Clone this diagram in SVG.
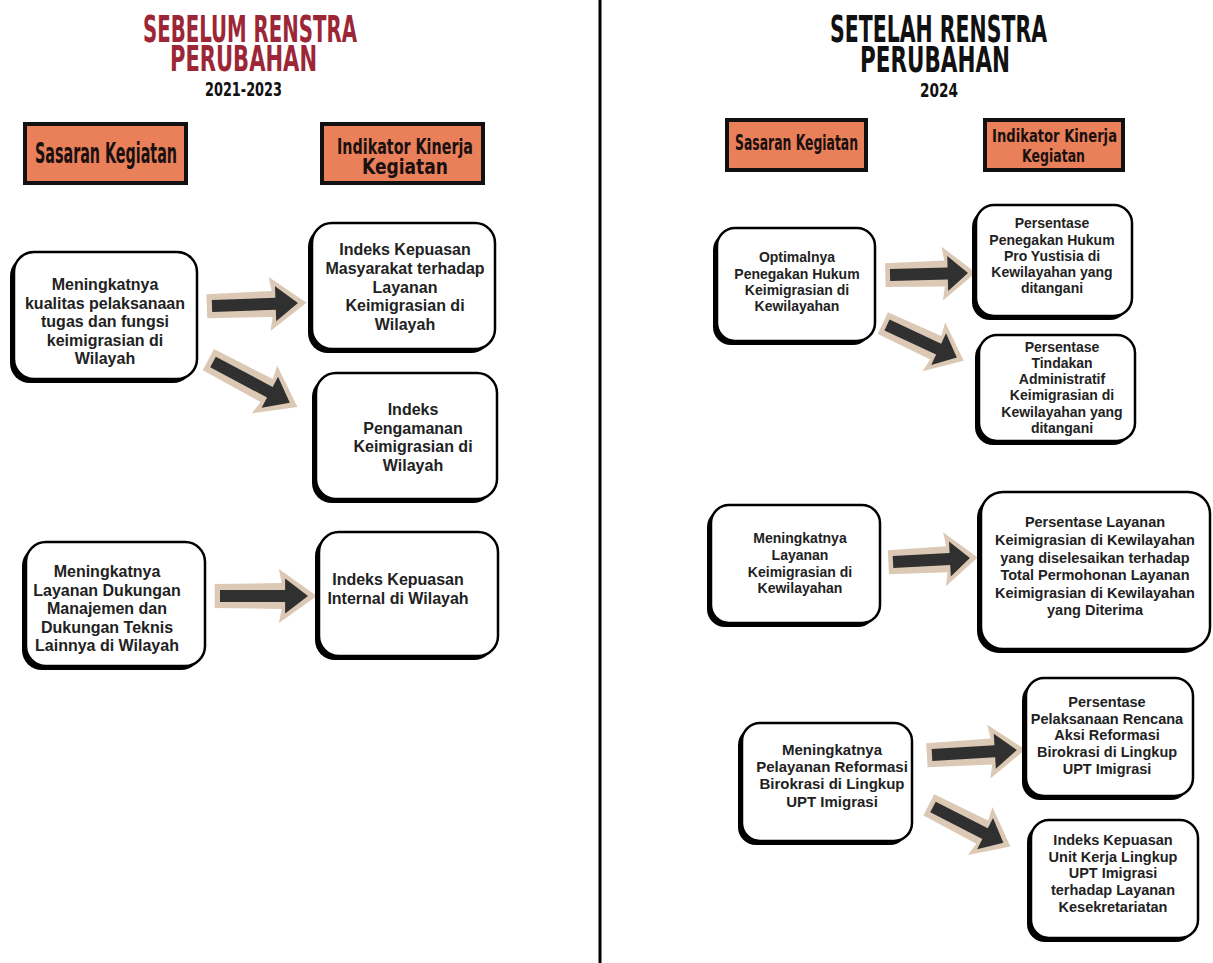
<svg xmlns="http://www.w3.org/2000/svg" xmlns:xlink="http://www.w3.org/1999/xlink" width="1213" height="963" viewBox="0 0 1213 963">
<style>
.title{font-family:"DejaVu Sans Condensed","Liberation Sans Narrow","Liberation Sans",sans-serif;font-weight:bold;text-anchor:start}
.red{fill:#9c2636}
.blk{fill:#111}
.hdr{fill:#e9805a;stroke:#111;stroke-width:4}
.htx{font-family:"DejaVu Sans Condensed","Liberation Sans Narrow","Liberation Sans",sans-serif;font-weight:bold;fill:#1a1010}
.shadow{fill:#000}
.box{fill:#fff;stroke:#000;stroke-width:2.5}
.nt{font-family:"Liberation Sans",Arial,sans-serif;font-weight:bold;fill:#222;text-anchor:middle}
.s16{font-size:16px}
.s14{font-size:14px}
.s145{font-size:14.5px}
.s15{font-size:15px}
.abg{fill:#dcc9b5}
.afg{fill:#303030}
</style>
<defs>
<g id="arrow">
<path class="abg" d="M-6,-12 L70,-13 L67,-27 L110,0 L67,27 L70,13 L-6,12 Z"/>
<path class="afg" d="M0,-6 L74,-6 L74,-17.5 L100,0 L74,17.5 L74,6 L0,6 Z"/>
</g>
</defs>
<rect x="0" y="0" width="1213" height="963" fill="#fff"/>
<line x1="600" y1="0" x2="600" y2="963" stroke="#000" stroke-width="3"/>

<g id="title-left">
<text class="title red" x="143" y="42" font-size="38" textLength="214" lengthAdjust="spacingAndGlyphs">SEBELUM RENSTRA</text>
<text class="title red" x="170" y="71" font-size="36" textLength="147" lengthAdjust="spacingAndGlyphs">PERUBAHAN</text>
<text class="title blk" x="205" y="96" font-size="20" textLength="77" lengthAdjust="spacingAndGlyphs">2021-2023</text>
</g>
<g id="title-right">
<text class="title blk" x="830" y="42" font-size="38" textLength="217" lengthAdjust="spacingAndGlyphs">SETELAH RENSTRA</text>
<text class="title blk" x="860" y="72" font-size="36" textLength="150" lengthAdjust="spacingAndGlyphs">PERUBAHAN</text>
<text class="title blk" x="920" y="97" font-size="20" textLength="38" lengthAdjust="spacingAndGlyphs">2024</text>
</g>

<g id="hdr-sasaran-left">
<rect class="hdr" x="25" y="124" width="161" height="59"/>
<text class="htx" x="35" y="163" font-size="28" textLength="142" lengthAdjust="spacingAndGlyphs">Sasaran Kegiatan</text>
</g>
<g id="hdr-indikator-left">
<rect class="hdr" x="322" y="124" width="161" height="59"/>
<text class="htx" x="337" y="154" font-size="21" textLength="136" lengthAdjust="spacingAndGlyphs">Indikator Kinerja</text>
<text class="htx" x="362" y="174" font-size="21" textLength="86" lengthAdjust="spacingAndGlyphs">Kegiatan</text>
</g>
<g id="hdr-sasaran-right">
<rect class="hdr" x="727" y="120" width="139" height="50" stroke-width="3.5"/>
<text class="htx" x="735" y="150" font-size="21" textLength="123" lengthAdjust="spacingAndGlyphs">Sasaran Kegiatan</text>
</g>
<g id="hdr-indikator-right">
<rect class="hdr" x="985" y="120" width="138" height="50" stroke-width="3.5"/>
<text class="htx" x="992" y="142" font-size="18" textLength="125" lengthAdjust="spacingAndGlyphs">Indikator Kinerja</text>
<text class="htx" x="1022" y="162" font-size="18" textLength="63" lengthAdjust="spacingAndGlyphs">Kegiatan</text>
</g>

<g id="connectors">
<use xlink:href="#arrow" href="#arrow" transform="translate(212,306) rotate(-2) scale(0.86,1)"/>
<use xlink:href="#arrow" href="#arrow" transform="translate(213,362) rotate(28) scale(0.87,1)"/>
<use xlink:href="#arrow" href="#arrow" transform="translate(220,596) scale(0.88,1)"/>
<use xlink:href="#arrow" href="#arrow" transform="translate(890,275) rotate(-1.5) scale(0.78,1)"/>
<use xlink:href="#arrow" href="#arrow" transform="translate(887,325) rotate(25) scale(0.77,1)"/>
<use xlink:href="#arrow" href="#arrow" transform="translate(893,562) rotate(-3) scale(0.77,1)"/>
<use xlink:href="#arrow" href="#arrow" transform="translate(932,755) rotate(-3.4) scale(0.85,1)"/>
<use xlink:href="#arrow" href="#arrow" transform="translate(933,807) rotate(27) scale(0.79,1)"/>
</g>

<g id="node-a">
<rect class="shadow" x="10" y="256" width="183" height="127" rx="20"/>
<rect class="box" x="14" y="252" width="183" height="127" rx="20"/>
<text class="nt s16" x="105"><tspan x="105" y="290">Meningkatnya</tspan><tspan x="105" y="308.5">kualitas pelaksanaan</tspan><tspan x="105" y="327">tugas dan fungsi</tspan><tspan x="105" y="345.5">keimigrasian di</tspan><tspan x="105" y="364">Wilayah</tspan></text>
</g>
<g id="node-b">
<rect class="shadow" x="308" y="227" width="183" height="126" rx="20"/>
<rect class="box" x="312" y="223" width="183" height="126" rx="20"/>
<text class="nt s16" x="405"><tspan x="405" y="255">Indeks Kepuasan</tspan><tspan x="405" y="274">Masyarakat terhadap</tspan><tspan x="405" y="292.5">Layanan</tspan><tspan x="405" y="311">Keimigrasian di</tspan><tspan x="405" y="329.5">Wilayah</tspan></text>
</g>
<g id="node-c">
<rect class="shadow" x="312" y="377" width="181" height="126" rx="20"/>
<rect class="box" x="316" y="373" width="181" height="126" rx="20"/>
<text class="nt s16" x="413"><tspan x="413" y="415">Indeks</tspan><tspan x="413" y="433.5">Pengamanan</tspan><tspan x="413" y="452">Keimigrasian di</tspan><tspan x="413" y="470.5">Wilayah</tspan></text>
</g>
<g id="node-d">
<rect class="shadow" x="22" y="546" width="179" height="124" rx="20"/>
<rect class="box" x="26" y="542" width="179" height="124" rx="20"/>
<text class="nt s16" x="107"><tspan x="107" y="577">Meningkatnya</tspan><tspan x="107" y="595.5">Layanan Dukungan</tspan><tspan x="107" y="614">Manajemen dan</tspan><tspan x="107" y="632.5">Dukungan Teknis</tspan><tspan x="107" y="651">Lainnya di Wilayah</tspan></text>
</g>
<g id="node-e">
<rect class="shadow" x="315" y="536" width="179" height="124" rx="20"/>
<rect class="box" x="319" y="532" width="179" height="124" rx="20"/>
<text class="nt s16" x="398"><tspan x="398" y="585">Indeks Kepuasan</tspan><tspan x="398" y="603.5">Internal di Wilayah</tspan></text>
</g>

<g id="node-f">
<rect class="shadow" x="713" y="232" width="158" height="113" rx="18"/>
<rect class="box" x="717" y="228" width="158" height="113" rx="18"/>
<text class="nt s14" x="797"><tspan x="797" y="262">Optimalnya</tspan><tspan x="797" y="278.5">Penegakan Hukum</tspan><tspan x="797" y="295">Keimigrasian di</tspan><tspan x="797" y="311">Kewilayahan</tspan></text>
</g>
<g id="node-g">
<rect class="shadow" x="972" y="209" width="156" height="111" rx="18"/>
<rect class="box" x="976" y="205" width="156" height="111" rx="18"/>
<text class="nt s14" x="1052"><tspan x="1052" y="228">Persentase</tspan><tspan x="1052" y="244.5">Penegakan Hukum</tspan><tspan x="1052" y="261">Pro Yustisia di</tspan><tspan x="1052" y="277">Kewilayahan yang</tspan><tspan x="1052" y="293">ditangani</tspan></text>
</g>
<g id="node-h">
<rect class="shadow" x="975" y="339" width="156" height="106" rx="18"/>
<rect class="box" x="979" y="335" width="156" height="106" rx="18"/>
<text class="nt s14" x="1062"><tspan x="1062" y="352">Persentase</tspan><tspan x="1062" y="368">Tindakan</tspan><tspan x="1062" y="384">Administratif</tspan><tspan x="1062" y="400">Keimigrasian di</tspan><tspan x="1062" y="416.5">Kewilayahan yang</tspan><tspan x="1062" y="432.5">ditangani</tspan></text>
</g>
<g id="node-i">
<rect class="shadow" x="707" y="509" width="169" height="118" rx="18"/>
<rect class="box" x="711" y="505" width="169" height="118" rx="18"/>
<text class="nt s14" x="800"><tspan x="800" y="543">Meningkatnya</tspan><tspan x="800" y="560">Layanan</tspan><tspan x="800" y="577">Keimigrasian di</tspan><tspan x="800" y="593">Kewilayahan</tspan></text>
</g>
<g id="node-j">
<rect class="shadow" x="977" y="496" width="229" height="157" rx="22"/>
<rect class="box" x="981" y="492" width="229" height="157" rx="22"/>
<text class="nt s145" x="1095"><tspan x="1095" y="527">Persentase Layanan</tspan><tspan x="1095" y="545">Keimigrasian di Kewilayahan</tspan><tspan x="1095" y="562.5">yang diselesaikan terhadap</tspan><tspan x="1095" y="580">Total Permohonan Layanan</tspan><tspan x="1095" y="597.5">Keimigrasian di Kewilayahan</tspan><tspan x="1095" y="615">yang Diterima</tspan></text>
</g>
<g id="node-k">
<rect class="shadow" x="738" y="727" width="170" height="118" rx="18"/>
<rect class="box" x="742" y="723" width="170" height="118" rx="18"/>
<text class="nt s15" x="832"><tspan x="832" y="755">Meningkatnya</tspan><tspan x="832" y="772">Pelayanan Reformasi</tspan><tspan x="832" y="789">Birokrasi di Lingkup</tspan><tspan x="832" y="806.5">UPT Imigrasi</tspan></text>
</g>
<g id="node-l">
<rect class="shadow" x="1022" y="682" width="167" height="118" rx="18"/>
<rect class="box" x="1026" y="678" width="167" height="118" rx="18"/>
<text class="nt s145" x="1107"><tspan x="1107" y="707">Persentase</tspan><tspan x="1107" y="723.5">Pelaksanaan Rencana</tspan><tspan x="1107" y="740">Aksi Reformasi</tspan><tspan x="1107" y="757">Birokrasi di Lingkup</tspan><tspan x="1107" y="773.5">UPT Imigrasi</tspan></text>
</g>
<g id="node-m">
<rect class="shadow" x="1027" y="824" width="167" height="118" rx="18"/>
<rect class="box" x="1031" y="820" width="167" height="118" rx="18"/>
<text class="nt s145" x="1113"><tspan x="1113" y="845">Indeks Kepuasan</tspan><tspan x="1113" y="861.5">Unit Kerja Lingkup</tspan><tspan x="1113" y="878">UPT Imigrasi</tspan><tspan x="1113" y="895">terhadap Layanan</tspan><tspan x="1113" y="911.5">Kesekretariatan</tspan></text>
</g>
</svg>
